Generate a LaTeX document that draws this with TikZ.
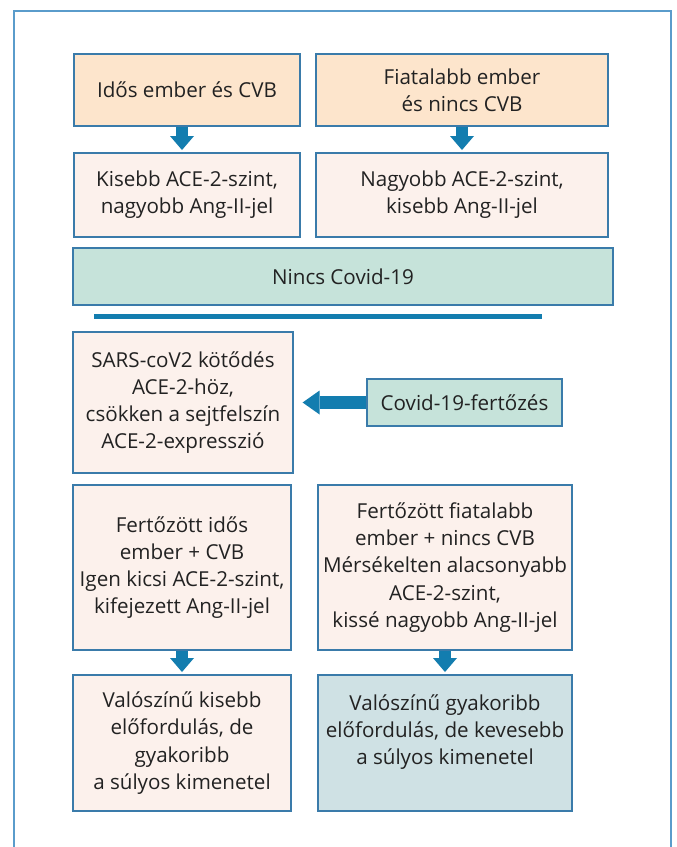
\documentclass[tikz,border=0pt]{standalone}
\usepackage{fontspec}
\setmainfont{Open Sans}
\usetikzlibrary{arrows.meta, positioning}
\definecolor{framebl}{HTML}{5A9CCB}
\definecolor{edgebl}{HTML}{3A7BAA}
\definecolor{arrowbl}{HTML}{137DAF}
\definecolor{peach}{HTML}{FDE5CC}
\definecolor{blush}{HTML}{FCF1EC}
\definecolor{mint}{HTML}{C6E3DA}
\definecolor{greyblue}{HTML}{CFE1E4}
\definecolor{inkgray}{HTML}{222222}

\begin{document}
\begin{tikzpicture}[x=0.5pt, y=-0.5pt,
    box/.style={draw=edgebl, line width=0.6pt, text=inkgray, align=center,
        font=\fontsize{10.3}{13.6}\selectfont, inner sep=0pt},
    down/.style={arrowbl, line width=6.3pt,
        -{Triangle[width=12pt, length=7pt, line width=0pt]}, shorten >=1.2pt},
    left/.style={arrowbl, line width=6.3pt,
        -{Triangle[width=12pt, length=8.5pt, line width=0pt]}, shorten >=4.5pt}]
    \useasboundingbox (0,0) rectangle (676,847);
    \draw[framebl, line width=0.9pt] (14,870) -- (14,11) -- (671,11) -- (671,870);

    % no covid
    \node[box, fill=peach, minimum width=113pt, minimum height=36pt] (idos) at (187,90) {Idős ember és CVB};
    \node[box, fill=peach, minimum width=146pt, minimum height=36pt] (fiatal) at (462,90) {Fiatalabb ember\\és nincs CVB};
    \node[box, fill=blush, minimum width=113pt, minimum height=42pt] (kisebb) at (187,195) {Kisebb ACE-2-szint,\\nagyobb Ang-II-jel};
    \node[box, fill=blush, minimum width=146pt, minimum height=42pt] (nagyobb) at (462,195) {Nagyobb ACE-2-szint,\\kisebb Ang-II-jel};
    \node[box, fill=mint, minimum width=270pt, minimum height=28.5pt] (nincs) at (343,276.5) {Nincs Covid-19};
    \draw[down] ([xshift=-2.5pt]idos.south) -- ([xshift=-2.5pt]kisebb.north);
    \draw[down] (fiatal) -- (nagyobb);

    \draw[arrowbl, line width=2.5pt] (94,316.5) -- (542,316.5);

    % covid
    \node[box, fill=blush, minimum width=110pt, minimum height=70.5pt] (sars) at (183,402.5) {SARS-coV2 kötődés\\ACE-2-höz,\\csökken a sejtfelszín\\ACE-2-expresszió};
    \node[box, fill=mint, minimum width=97.5pt, minimum height=23.5pt] (fert) at (464.5,402.5) {Covid-19-fertőzés};
    \draw[left] (fert) -- (sars);

    \node[box, fill=blush, minimum width=109pt, minimum height=82.5pt] (idosfert) at (182,567.5) {Fertőzött idős\\ember + CVB\\Igen kicsi ACE-2-szint,\\kifejezett Ang-II-jel};
    \node[box, fill=blush, minimum width=127pt, minimum height=82.5pt] (fiatalfert) at (445,567.5) {Fertőzött fiatalabb\\ember + nincs CVB\\Mérsékelten alacsonyabb\\ACE-2-szint,\\kissé nagyobb Ang-II-jel};
    \node[box, fill=blush, minimum width=109pt, minimum height=68pt] (kimenet1) at (182,743) {Valószínű kisebb\\előfordulás, de\\gyakoribb\\a súlyos kimenetel};
    \node[box, fill=greyblue, minimum width=127pt, minimum height=68pt] (kimenet2) at (445,743) {Valószínű gyakoribb\\előfordulás, de kevesebb\\a súlyos kimenetel\\\mbox{}};
    \draw[down] (idosfert) -- (kimenet1);
    \draw[down] (fiatalfert) -- (kimenet2);
\end{tikzpicture}
\end{document}
